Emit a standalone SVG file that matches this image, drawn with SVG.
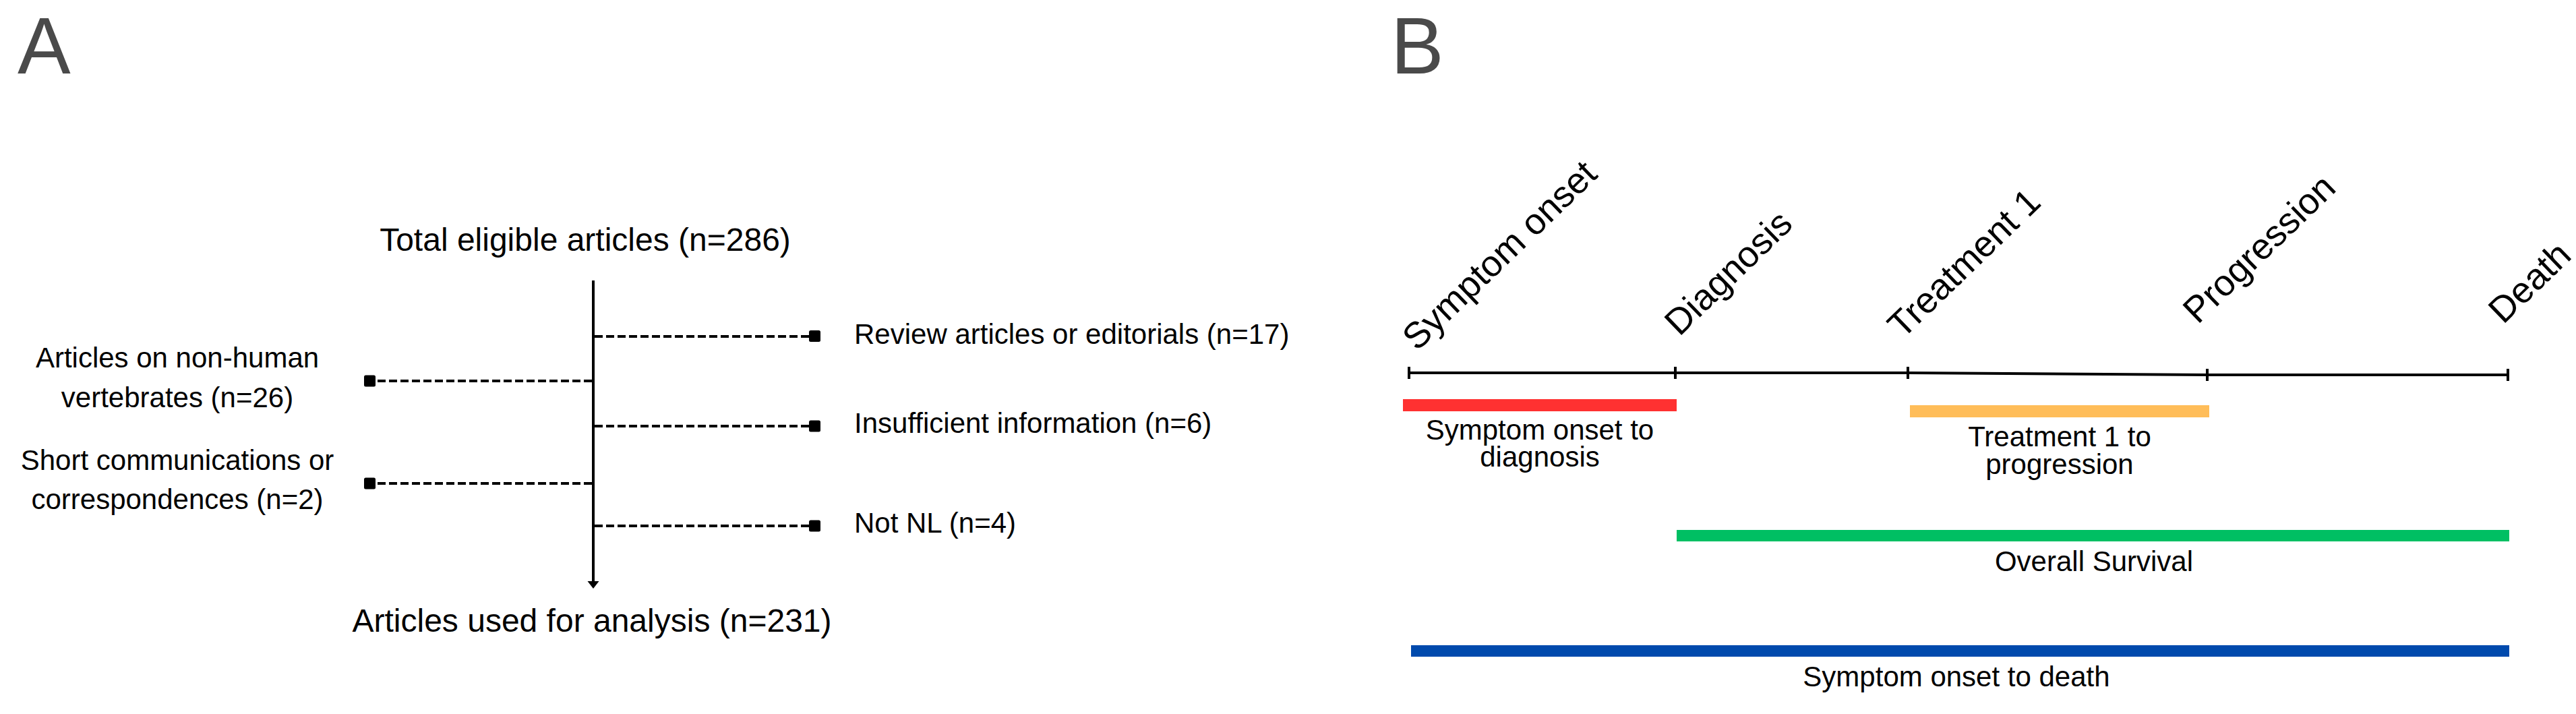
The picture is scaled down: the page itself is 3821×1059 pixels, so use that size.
<svg xmlns="http://www.w3.org/2000/svg" width="3821" height="1059" viewBox="0 0 3821 1059">
<style>
text{font-family:"Liberation Sans",Arial,sans-serif;fill:#000}
.panel{font-size:118px;fill:#4a4a4a}
.big{font-size:48px}
.lbl{font-size:42px}
.mid{text-anchor:middle}
.rot{font-size:54px}
.dash{stroke:#000;stroke-width:4;stroke-dasharray:12 5;fill:none}
.solid{stroke:#000;stroke-width:4;fill:none}
.sq{fill:#000}
</style>
<rect width="3821" height="1059" fill="#fff"/>
<text class="panel" x="26" y="109">A</text>
<text class="panel" x="2063" y="109">B</text>

<g id="connectors">
<line class="solid" x1="880" y1="416" x2="880" y2="862"/>
<path d="M871.5,862 L888.5,862 L880,873 Z" fill="#000"/>
<line class="dash" x1="882" y1="499" x2="1201" y2="499"/>
<line class="dash" x1="882" y1="632" x2="1201" y2="632"/>
<line class="dash" x1="882" y1="780" x2="1201" y2="780"/>
<line class="dash" x1="878" y1="565" x2="556" y2="565"/>
<line class="dash" x1="878" y1="717" x2="556" y2="717"/>
<rect class="sq" x="1200" y="490" width="17" height="17" rx="2.5"/>
<rect class="sq" x="1200" y="623.5" width="17" height="17" rx="2.5"/>
<rect class="sq" x="1200" y="771.5" width="17" height="17" rx="2.5"/>
<rect class="sq" x="540" y="556.5" width="17" height="17" rx="2.5"/>
<rect class="sq" x="540" y="708.5" width="17" height="17" rx="2.5"/>
</g>

<g id="n-total"><text class="big mid" x="868" y="372">Total eligible articles (n=286)</text></g>
<g id="n-used"><text class="big mid" x="878" y="937">Articles used for analysis (n=231)</text></g>
<g id="n-nonhuman"><text class="lbl mid" x="263" y="545">Articles on non-human</text><text class="lbl mid" x="263" y="604">vertebrates (n=26)</text></g>
<g id="n-short"><text class="lbl mid" x="263" y="697">Short communications or</text><text class="lbl mid" x="263" y="755">correspondences (n=2)</text></g>
<g id="n-review"><text class="lbl" x="1267" y="510">Review articles or editorials (n=17)</text></g>
<g id="n-insuff"><text class="lbl" x="1267" y="642">Insufficient information (n=6)</text></g>
<g id="n-notnl"><text class="lbl" x="1267" y="790">Not NL (n=4)</text></g>

<g id="timeline">
<polyline class="solid" points="2090,553 2485,553 2830,553 3274,556 3720,556"/>
<line class="solid" x1="2090" y1="544" x2="2090" y2="562"/>
<line class="solid" x1="2485" y1="544" x2="2485" y2="562"/>
<line class="solid" x1="2830" y1="544" x2="2830" y2="562"/>
<line class="solid" x1="3274" y1="547" x2="3274" y2="565"/>
<line class="solid" x1="3720" y1="547" x2="3720" y2="565"/>
</g>
<g id="t-symptom"><text class="rot" transform="translate(2102,522) rotate(-44)">Symptom onset</text></g>
<g id="t-diagnosis"><text class="rot" transform="translate(2491,500) rotate(-44)">Diagnosis</text></g>
<g id="t-treatment"><text class="rot" transform="translate(2822,504) rotate(-44)">Treatment 1</text></g>
<g id="t-progression"><text class="rot" transform="translate(3260,482) rotate(-44)">Progression</text></g>
<g id="t-death"><text class="rot" transform="translate(3713,482) rotate(-44)">Death</text></g>

<g id="b-red"><rect x="2081" y="592" width="406" height="18" fill="#ff3131"/>
<text class="lbl mid" x="2284" y="652">Symptom onset to</text><text class="lbl mid" x="2284" y="692">diagnosis</text></g>
<g id="b-orange"><rect x="2833" y="601" width="444" height="18" fill="#ffbd59"/>
<text class="lbl mid" x="3055" y="662">Treatment 1 to</text><text class="lbl mid" x="3055" y="703">progression</text></g>
<g id="b-green"><rect x="2487" y="786" width="1235" height="17" fill="#00bf63"/>
<text class="lbl mid" x="3106" y="847">Overall Survival</text></g>
<g id="b-blue"><rect x="2093" y="957" width="1629" height="17" fill="#004aad"/>
<text class="lbl mid" x="2902" y="1018">Symptom onset to death</text></g>
</svg>
